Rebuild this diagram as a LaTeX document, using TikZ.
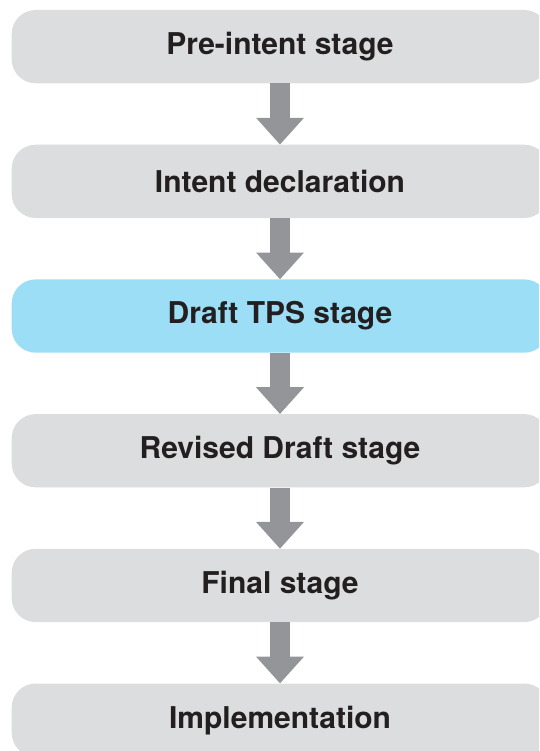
\documentclass[tikz,border=0pt]{standalone}
\usepackage{fontspec}
\setmainfont{TeX Gyre Heros}
\usetikzlibrary{arrows.meta}

\definecolor{stagegray}{HTML}{DCDDDE}
\definecolor{stageblue}{HTML}{9BDEF6}
\definecolor{arrowgray}{HTML}{939598}
\definecolor{labelink}{HTML}{231F20}

\begin{document}
\begin{tikzpicture}[x=1pt, y=-1pt,
  stagebox/.style={rectangle, rounded corners=24pt, fill=stagegray, draw=none,
    minimum width=536.6pt, minimum height=73.3pt, inner sep=0pt,
    text=labelink, font=\fontsize{30}{35}\selectfont\bfseries},
  activebox/.style={stagebox, fill=stageblue},
  flow/.style={draw=arrowgray, line width=19.3pt,
    -{Triangle[width=48pt, length=26.7pt, line width=0pt]}}]
  \useasboundingbox (0,0) rectangle (539,751);
  \clip (0,0) rectangle (539,751);

  % stage boxes, one every 134.7pt
  \node[stagebox]  (s1) at (280, 46.65)  {Pre-intent stage};
  \node[stagebox]  (s2) at (280, 181.35) {Intent declaration};
  \node[activebox] (s3) at (280, 316.05) {Draft TPS stage};
  \node[stagebox]  (s4) at (280, 450.75) {Revised Draft stage};
  \node[stagebox]  (s5) at (280, 585.45) {Final stage};
  \node[stagebox]  (s6) at (280, 720.15) {Implementation};

  % block arrows between consecutive stages
  \foreach \a/\b in {s1/s2, s2/s3, s3/s4, s4/s5, s5/s6}
    \draw[flow] (\a.south) -- (\b.north);
\end{tikzpicture}
\end{document}
